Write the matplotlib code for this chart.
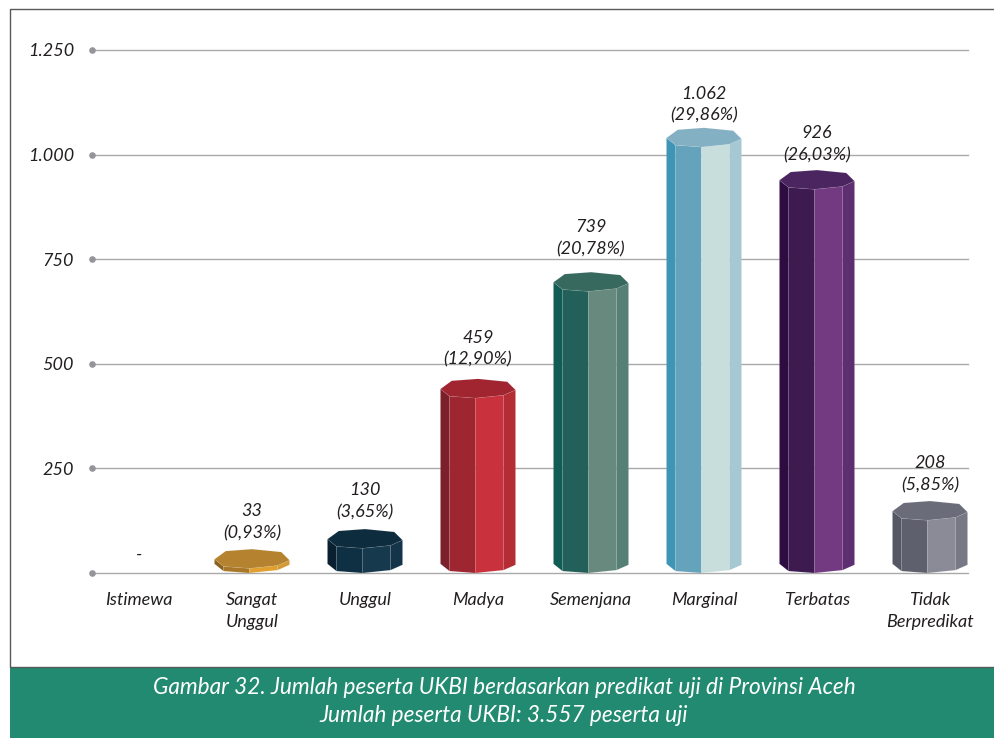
import matplotlib
matplotlib.use("Agg")
import matplotlib.pyplot as plt
from matplotlib.lines import Line2D
from matplotlib.patches import Polygon, Rectangle

plt.rcParams['font.family'] = ['Lato', 'DejaVu Sans']

categories = ["Istimewa", "Sangat\nUnggul", "Unggul", "Madya", "Semenjana", "Marginal", "Terbatas", "Tidak\nBerpredikat"]
value_labels = ["-", "33\n(0,93%)", "130\n(3,65%)", "459\n(12,90%)", "739\n(20,78%)", "1.062\n(29,86%)", "926\n(26,03%)", "208\n(5,85%)"]
# the columns in the picture are not quite to scale, so these are their drawn heights
drawn_heights = [0, 57, 105, 464, 719, 1064, 963, 172]
y_ticks = [0, 250, 500, 750, 1000, 1250]
y_tick_labels = ["", "250", "500", "750", "1.000", "1.250"]

# cap, then the four visible faces from left to right
bar_colors = [
    None,
    ("#b5832f", "#8a5f20", "#a87828", "#e0a030", "#d49a34"),
    ("#0d2c3d", "#0a2030", "#0f2f42", "#17394d", "#143549"),
    ("#a02530", "#7b1f2a", "#9e2630", "#c9323c", "#b42d35"),
    ("#37695f", "#115c55", "#23605a", "#688a7e", "#568076"),
    ("#84b0c4", "#3f95b5", "#64a3bb", "#c8dedd", "#a5c8d3"),
    ("#4b2560", "#2d0c42", "#3d1a50", "#733a82", "#5e2f70"),
    ("#6b6c7a", "#565764", "#5f606d", "#8a8b97", "#777885"),
]
label_gap_px = [18, 27, 28, 30, 34, 23, 26, 27]

octagon = [(-1, -0.05), (-0.7, 0.8), (0, 1), (0.78, 0.7), (1, -0.15), (0.68, -0.7), (-0.07, -1), (-0.76, -0.8)]
half_w = 0.332
half_d = 23
W, H = 995, 738
text_size = 13


def draw_prism(ax, x, height, colors):
    top = height - half_d
    bot = half_d
    pts_top = [(x + a * half_w, top + b * half_d) for a, b in octagon]
    pts_bot = [(x + a * half_w, bot + b * half_d) for a, b in octagon]
    # visible faces run left -> lower left -> front -> lower right -> right
    order = [0, 7, 6, 5, 4]
    for i in range(4):
        i1, i2 = order[i], order[i + 1]
        face = [pts_top[i1], pts_top[i2], pts_bot[i2], pts_bot[i1]]
        ax.add_patch(Polygon(face, closed=True, facecolor=colors[i + 1], edgecolor=(1, 1, 1, 0.08),
                             linewidth=0.5, zorder=3, clip_on=False))
    ax.add_patch(Polygon(pts_top, closed=True, facecolor=colors[0], edgecolor=(1, 1, 1, 0.1),
                         linewidth=0.5, zorder=4, clip_on=False))


fig = plt.figure(figsize=(W / 100, H / 100), dpi=100)
ax = fig.add_axes([92 / W, (H - 573) / H, (968 - 92) / W, (573 - 50) / H])
ax.set_xlim((92 - 139) / 113, (968 - 139) / 113)
ax.set_ylim(0, 1250)

for s in ax.spines.values():
    s.set_visible(False)
ax.set_yticks(y_ticks)
ax.set_yticklabels(y_tick_labels, fontsize=text_size, fontstyle="italic", color="#231f20")
ax.set_xticks(range(len(categories)))
ax.set_xticklabels(categories, fontsize=text_size, fontstyle="italic", color="#231f20", linespacing=1.45)
ax.tick_params(axis="both", length=0)
ax.tick_params(axis="y", pad=13)
ax.tick_params(axis="x", pad=14)
ax.grid(axis="y", color="#a9a9a9", linewidth=1, clip_on=False)
ax.set_axisbelow(True)
ax.scatter([ax.get_xlim()[0]] * len(y_ticks), y_ticks, s=14, color="#939598", clip_on=False, zorder=2)

for i, h in enumerate(drawn_heights):
    if bar_colors[i] is not None:
        draw_prism(ax, i, h, bar_colors[i])
    ax.annotate(value_labels[i], (i, h), xytext=(0, label_gap_px[i] * 0.72), textcoords="offset points",
                ha="center", va="center", fontsize=text_size, fontstyle="italic", color="#231f20",
                linespacing=1.45, zorder=5)

# frame and caption band
fig.add_artist(Line2D([995 / W, 10 / W, 10 / W, 995 / W],
                      [(H - 8.5) / H, (H - 8.5) / H, (H - 667) / H, (H - 667) / H],
                      color="#58595b", linewidth=1))
fig.add_artist(Rectangle((10 / W, 0), 985 / W, (H - 667) / H, facecolor="#218a70", edgecolor="none"))
fig.text(504 / W, (H - 688) / H, "Gambar 32. Jumlah peserta UKBI berdasarkan predikat uji di Provinsi Aceh",
         ha="center", va="center", color="white", fontsize=16.3, fontstyle="italic")
fig.text(504 / W, (H - 716) / H, "Jumlah peserta UKBI: 3.557 peserta uji",
         ha="center", va="center", color="white", fontsize=16.3, fontstyle="italic")

fig.savefig("out.png", dpi=100)
